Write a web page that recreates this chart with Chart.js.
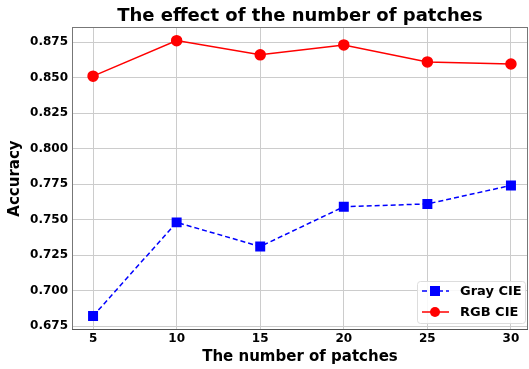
<!DOCTYPE html>
<html>
<head>
<meta charset="utf-8">
<script src="https://cdn.jsdelivr.net/npm/chart.js@4/dist/chart.umd.min.js"></script>
<style>
  html, body { margin: 0; padding: 0; background: #fff; }
  #wrap { width: 529px; height: 369px; }
</style>
</head>
<body>
<div id="wrap"><canvas id="myChart"></canvas></div>
<script>
const patches = [5, 10, 15, 20, 25, 30];
const grayCIE = [0.682, 0.748, 0.731, 0.759, 0.761, 0.774];
const rgbCIE = [0.851, 0.876, 0.866, 0.873, 0.861, 0.8595];
const yTicks = [0.675, 0.7, 0.725, 0.75, 0.775, 0.8, 0.825, 0.85, 0.875];
const titleText = "The effect of the number of patches";

const canvas = document.getElementById("myChart");
const font = "DejaVu Sans";

// title over the plot, frame, and legend box inside the plot (bottom right)
const extras = {
  id: "extras",
  afterDraw(chart) {
    const ctx = chart.ctx;
    const a = chart.chartArea;
    ctx.save();

    ctx.fillStyle = "#000";
    ctx.font = "bold 18px " + font;
    ctx.textAlign = "center";
    ctx.textBaseline = "middle";
    ctx.fillText(titleText, (a.left + a.right) / 2, 16);

    ctx.strokeStyle = "#777";
    ctx.lineWidth = 1;
    ctx.strokeRect(a.left + 0.5, a.top + 0.5, a.right - a.left - 1, a.bottom - a.top - 1);
    ctx.strokeStyle = "#555";
    ctx.beginPath();
    ctx.moveTo(a.left, a.bottom - 0.5);
    ctx.lineTo(a.right, a.bottom - 0.5);
    ctx.stroke();

    const w = 108, h = 42;
    const x = a.right - w - 3, y = a.bottom - h - 7;
    ctx.fillStyle = "rgba(255,255,255,0.85)";
    ctx.strokeStyle = "#dddddd";
    ctx.beginPath();
    ctx.roundRect(x + 0.5, y + 0.5, w, h, 3);
    ctx.fill();
    ctx.stroke();

    ctx.textAlign = "left";
    chart.data.datasets.forEach((ds, i) => {
      const cy = y + 10 + i * 21;
      ctx.strokeStyle = ds.borderColor;
      ctx.lineWidth = 1.5;
      ctx.setLineDash(ds.borderDash || []);
      ctx.beginPath();
      ctx.moveTo(x + 5, cy);
      ctx.lineTo(x + 32, cy);
      ctx.stroke();
      ctx.setLineDash([]);
      ctx.fillStyle = ds.pointBackgroundColor;
      if (ds.pointStyle === "rect") {
        ctx.fillRect(x + 18 - 5, cy - 5, 10, 10);
      } else {
        ctx.beginPath();
        ctx.arc(x + 18, cy, 5, 0, Math.PI * 2);
        ctx.fill();
      }
      ctx.fillStyle = "#000";
      ctx.font = "bold 13px " + font;
      ctx.fillText(ds.label, x + 43, cy + 1);
    });
    ctx.restore();
  },
};

new Chart(canvas, {
  type: "line",
  data: {
    datasets: [
      {
        label: "Gray CIE",
        data: patches.map((p, i) => ({ x: p, y: grayCIE[i] })),
        borderColor: "#0000ff",
        backgroundColor: "#0000ff",
        pointBackgroundColor: "#0000ff",
        pointBorderColor: "#0000ff",
        borderDash: [5, 3],
        borderWidth: 1.5,
        pointStyle: "rect",
        pointRadius: 6,
        tension: 0,
      },
      {
        label: "RGB CIE",
        data: patches.map((p, i) => ({ x: p, y: rgbCIE[i] })),
        borderColor: "#ff0000",
        backgroundColor: "#ff0000",
        pointBackgroundColor: "#ff0000",
        pointBorderColor: "#ff0000",
        borderWidth: 1.5,
        pointStyle: "circle",
        pointRadius: 5,
        tension: 0,
      },
    ],
  },
  options: {
    responsive: true,
    maintainAspectRatio: false,
    animation: false,
    layout: { autoPadding: false, padding: { left: 6, right: 1, top: 27, bottom: 3 } },
    plugins: {
      legend: { display: false },
      tooltip: { enabled: false },
      title: { display: false },
    },
    scales: {
      x: {
        type: "linear",
        min: 3.74,
        max: 31.02,
        afterBuildTicks: (axis) => {
          axis.ticks = patches.map((v) => ({ value: v }));
        },
        afterFit: (axis) => {
          axis.height = 36;
          axis.paddingLeft = 0;
          axis.paddingRight = 0;
        },
        ticks: {
          color: "#000",
          font: { family: font, size: 12, weight: "bold" },
          padding: 2,
          maxRotation: 0,
        },
        grid: { color: "#cccccc", tickLength: 0 },
        border: { display: false },
        title: {
          display: true,
          text: "The number of patches",
          color: "#000",
          font: { family: font, size: 15, weight: "bold" },
          padding: { top: 0, bottom: 0 },
        },
      },
      y: {
        min: 0.6722,
        max: 0.8856,
        afterBuildTicks: (axis) => {
          axis.ticks = yTicks.map((v) => ({ value: v }));
        },
        afterFit: (axis) => {
          axis.width = 66;
          axis.paddingTop = 0;
          axis.paddingBottom = 0;
        },
        ticks: {
          color: "#000",
          font: { family: font, size: 12, weight: "bold" },
          padding: 4,
          callback: (v) => v.toFixed(3),
        },
        grid: { color: "#cccccc", tickLength: 0 },
        border: { display: false },
        title: {
          display: true,
          text: "Accuracy",
          color: "#000",
          font: { family: font, size: 15, weight: "bold" },
          padding: { top: 0, bottom: 0 },
        },
      },
    },
  },
  plugins: [extras],
});
</script>
</body>
</html>
